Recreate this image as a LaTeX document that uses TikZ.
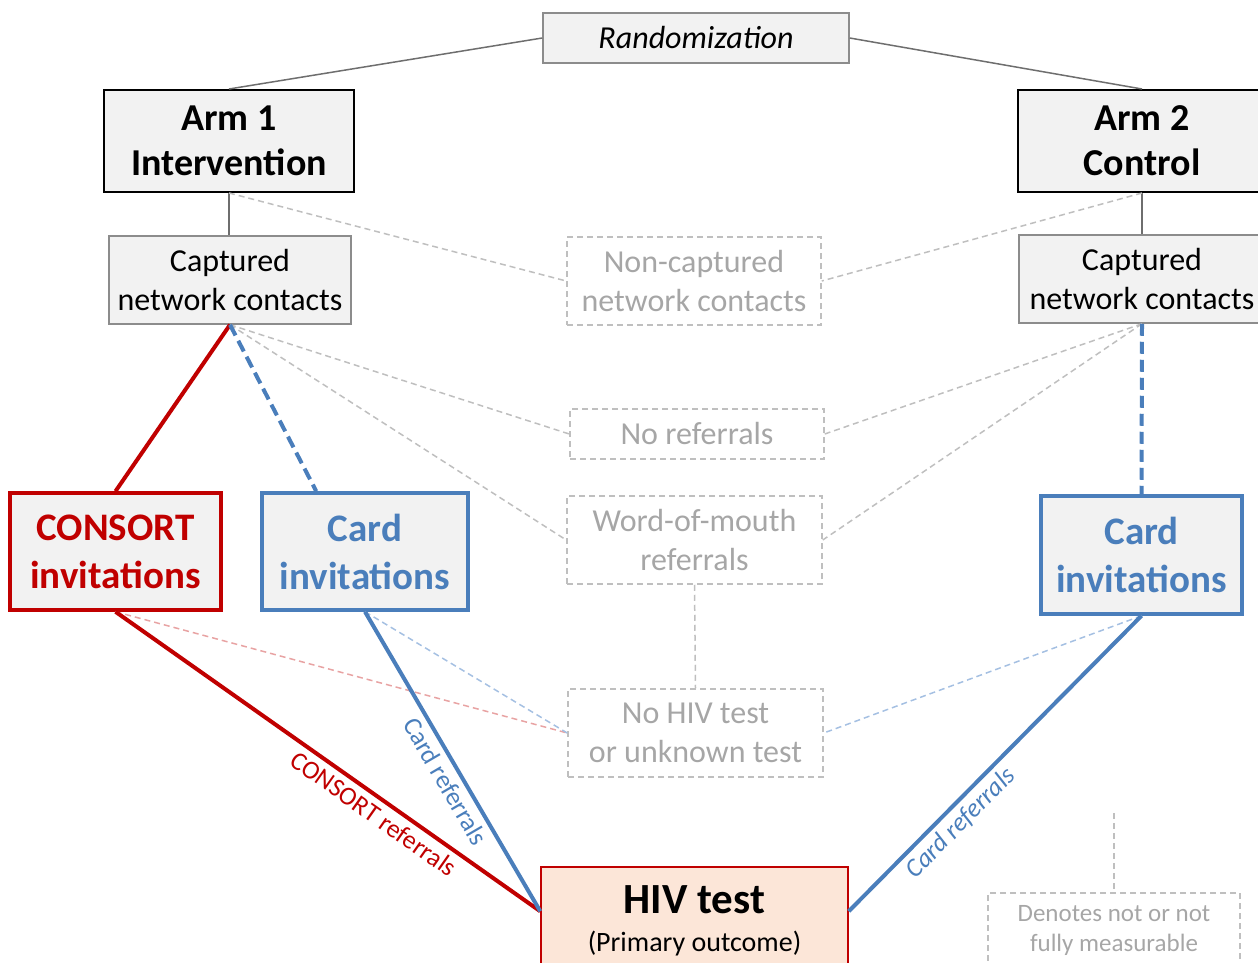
\documentclass[tikz,border=0pt]{standalone}
\usepackage{fontspec}
\setmainfont{Carlito}
\usetikzlibrary{calc}
\definecolor{boxfill}{HTML}{F2F2F2}
\definecolor{boxgray}{HTML}{8C8C8C}
\definecolor{lnkgray}{HTML}{6E6E6E}
\definecolor{dgray}{HTML}{BFBFBF}
\definecolor{tgray}{HTML}{A6A6A6}
\definecolor{myred}{HTML}{C00000}
\definecolor{myblue}{HTML}{4A7EBB}
\definecolor{lred}{HTML}{E8A3A3}
\definecolor{lblue}{HTML}{A5C0E2}
\definecolor{peach}{HTML}{FCE6D8}
\newcommand{\fs}[2]{\fontsize{#1}{#2}\selectfont}
\tikzset{
  base/.style={rectangle, inner sep=0pt, align=center},
  armbox/.style={base, draw=black, line width=2pt, fill=boxfill, font=\fs{38}{45}\bfseries},
  capbox/.style={base, draw=boxgray, line width=1.5pt, fill=boxfill, font=\fs{32}{39}},
  ghost/.style={base, draw=dgray, line width=1.5pt, dash pattern=on 6pt off 4pt, text=tgray, font=\fs{32}{39}},
  redbox/.style={base, draw=myred, line width=3.5pt, fill=boxfill, text=myred, font=\fs{39}{48}\bfseries},
  bluebox/.style={base, draw=myblue, line width=3.5pt, fill=boxfill, text=myblue, font=\fs{39}{48}\bfseries},
  solidlink/.style={draw=lnkgray, line width=1.5pt},
  ghostlink/.style={draw=dgray, line width=1.5pt, dash pattern=on 6pt off 4pt},
  redlink/.style={draw=myred, line width=4pt},
  bluelink/.style={draw=myblue, line width=4pt},
  bluedash/.style={draw=myblue, line width=4pt, dash pattern=on 12pt off 6pt},
  lredlink/.style={draw=lred, line width=1.5pt, dash pattern=on 6pt off 4pt},
  lbluelink/.style={draw=lblue, line width=1.5pt, dash pattern=on 6pt off 4pt},
  edgelabel/.style={sloped, below, inner sep=5pt, font=\fs{26}{30}}
}
\begin{document}
\begin{tikzpicture}[x=1pt, y=-1pt]
\useasboundingbox (0,0) rectangle (1258,963);
% nodes
\node[base, draw=boxgray, line width=1.5pt, fill=boxfill, font=\fs{32}{38}\itshape, minimum width=306, minimum height=50] (rand) at (696,38) {Randomization};
\node[armbox, minimum width=250, minimum height=102] (arm1) at (229,141) {Arm 1\\Intervention};
\node[armbox, minimum width=248, minimum height=102] (arm2) at (1142,141) {Arm 2\\Control};
\node[capbox, minimum width=242, minimum height=88] (cap1) at (230,280) {Captured\\network contacts};
\node[capbox, minimum width=246, minimum height=88] (cap2) at (1142,279) {Captured\\network contacts};
\node[ghost, minimum width=254, minimum height=88] (noncap) at (694,281) {Non-captured\\network contacts};
\node[ghost, minimum width=254, minimum height=50] (noref) at (697,434) {No referrals};
\node[ghost, minimum width=255, minimum height=88] (wom) at (694.5,540) {Word-of-mouth\\referrals};
\node[ghost, minimum width=255, minimum height=88] (nohiv) at (695.5,733) {No HIV test\\or unknown test};
\node[redbox, minimum width=211, minimum height=117] (consort) at (115.5,551.5) {CONSORT\\invitations};
\node[bluebox, minimum width=206, minimum height=117] (card1) at (365,551.5) {Card\\invitations};
\node[bluebox, minimum width=201, minimum height=118] (card2) at (1141.5,555) {Card\\invitations};
\node[base, draw=myred, line width=1.5pt, fill=peach, minimum width=307, minimum height=108] (hiv) at (694.5,921)
  {{\fs{43}{46}\bfseries HIV test}\\[16pt]{\fs{28}{30}(Primary outcome)}};
\node[ghost, minimum width=252, minimum height=74, font=\fs{25}{30}] (legend) at (1114,930) {Denotes not or not\\fully measurable};
\coordinate (legtop) at (1114,813);
% connectors
\draw[solidlink] (rand.west) -- (arm1.north);
\draw[solidlink] (rand.east) -- (arm2.north);
\draw[solidlink] (arm1.south) -- (arm1.south |- cap1.north);
\draw[solidlink] (arm2.south) -- (arm2.south |- cap2.north);
\draw[ghostlink] (arm1.south) -- (noncap.west);
\draw[ghostlink] (arm2.south) -- (noncap.east);
\draw[ghostlink] (cap1.south) -- (noref.west);
\draw[ghostlink] (cap1.south) -- (wom.west);
\draw[ghostlink] (cap2.south) -- (noref.east);
\draw[ghostlink] (cap2.south) -- (wom.east);
\draw[ghostlink] (wom.south) -- (nohiv.north);
\draw[ghostlink] (legtop) -- (legend.north);
\draw[redlink] (cap1.south) -- (consort.north);
\draw[bluedash] (cap1.south) -- ($(card1.north west)+(56,0)$);
\draw[bluedash] (cap2.south) -- (card2.north);
\draw[lredlink] (consort.south) -- (nohiv.west);
\draw[lbluelink] (card1.south) -- (nohiv.west);
\draw[lbluelink] (card2.south) -- (nohiv.east);
\draw[redlink] (consort.south) -- ($(hiv.north west)+(0,45)$)
  node[edgelabel, pos=0.63, text=myred] {CONSORT referrals};
\draw[bluelink] (card1.south) -- ($(hiv.north west)+(0,45)$)
  node[edgelabel, pos=0.54, text=myblue] {Card referrals};
\draw[bluelink] ($(hiv.north east)+(0,45)$) -- (card2.south)
  node[edgelabel, pos=0.34, text=myblue, font=\fs{26}{30}\itshape] {Card referrals};
\end{tikzpicture}
\end{document}
